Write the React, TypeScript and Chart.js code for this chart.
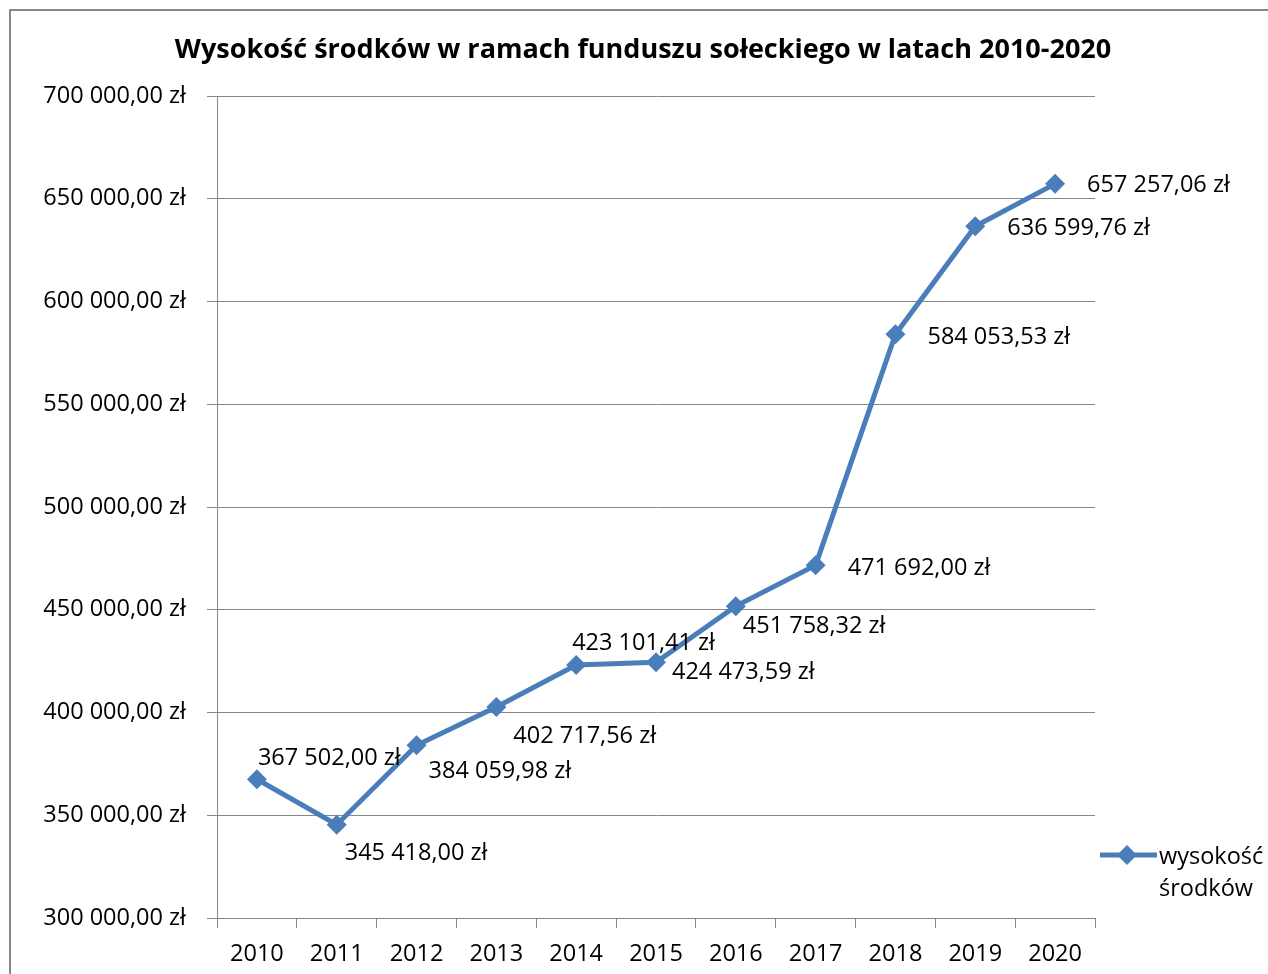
import React, { useEffect, useRef } from "react";
import { Chart, registerables } from "chart.js";

Chart.register(...registerables);

const TITLE = "Wysokość środków w ramach funduszu sołeckiego w latach 2010-2020";
const SERIES_NAME = ["wysokość", "środków"];
const YEARS = ["2010", "2011", "2012", "2013", "2014", "2015", "2016", "2017", "2018", "2019", "2020"];
const VALUES = [367502.0, 345418.0, 384059.98, 402717.56, 423101.41, 424473.59, 451758.32, 471692.0, 584053.53, 636599.76, 657257.06];
const Y_MIN = 300000;
const Y_MAX = 700000;
const Y_STEP = 50000;

// label placement offsets relative to each point (styling only)
const LABEL_DX = [1, 8, 12, 17, -4, 16, 7, 32, 32, 32, 32];
const LABEL_DY = [-21, 29, 26, 29, -22, 10, 20, 3, 3, 2, 1];

const BLUE = "#4A7EBB";
const GRID = "#868686";
const FONT = '"Open Sans", sans-serif';
const FS = 23.5;

function fmtZl(v: number): string {
  const [intPart, dec] = Math.abs(v).toFixed(2).split(".");
  const withSpaces = intPart.replace(/\B(?=(\d{3})+(?!\d))/g, " ");
  return (v < 0 ? "-" : "") + withSpaces + "," + dec + " zł";
}

const decorPlugin = {
  id: "decor",
  beforeDraw(chart: any) {
    const ctx = chart.ctx;
    ctx.save();
    ctx.fillStyle = "#ffffff";
    ctx.fillRect(0, 0, chart.width, chart.height);
    ctx.strokeStyle = "#878787";
    ctx.lineWidth = 2;
    ctx.strokeRect(10, 10, chart.width + 20, chart.height + 20);
    ctx.restore();
  },
  afterDraw(chart: any) {
    const ctx = chart.ctx;
    ctx.save();
    // title
    ctx.fillStyle = "#000";
    ctx.font = `bold 27px ${FONT}`;
    ctx.textAlign = "center";
    ctx.textBaseline = "middle";
    ctx.fillText(TITLE, 643, 50);

    // data labels
    const meta = chart.getDatasetMeta(0);
    ctx.font = `${FS}px ${FONT}`;
    ctx.textAlign = "left";
    meta.data.forEach((pt: any, i: number) => {
      ctx.fillText(fmtZl(VALUES[i]), pt.x + LABEL_DX[i], pt.y + LABEL_DY[i]);
    });

    // legend
    ctx.strokeStyle = BLUE;
    ctx.lineWidth = 5;
    ctx.beginPath();
    ctx.moveTo(1100, 855);
    ctx.lineTo(1157, 855);
    ctx.stroke();
    ctx.fillStyle = BLUE;
    ctx.beginPath();
    ctx.moveTo(1127 - 10, 855);
    ctx.lineTo(1127, 845);
    ctx.lineTo(1127 + 10, 855);
    ctx.lineTo(1127, 865);
    ctx.closePath();
    ctx.fill();
    ctx.fillStyle = "#000";
    ctx.fillText(SERIES_NAME[0], 1159, 857);
    ctx.fillText(SERIES_NAME[1], 1159, 889);
    ctx.restore();
  },
};

export default function App() {
  const ref = useRef<HTMLCanvasElement | null>(null);
  useEffect(() => {
    if (!ref.current) return;
    const chart = new Chart(ref.current, {
      type: "line",
      data: {
        labels: YEARS,
        datasets: [
          {
            label: SERIES_NAME.join(" "),
            data: VALUES,
            borderColor: BLUE,
            backgroundColor: BLUE,
            borderWidth: 5,
            pointStyle: "rectRot",
            pointRadius: 10,
            pointBorderWidth: 0,
            pointBackgroundColor: BLUE,
            tension: 0,
          },
        ],
      },
      options: {
        responsive: false,
        animation: false,
        layout: { padding: { top: 96, right: 173, left: 0, bottom: 0 } },
        plugins: {
          legend: { display: false },
          title: { display: false },
          tooltip: { enabled: false },
        },
        scales: {
          x: {
            offset: true,
            afterFit: (s: any) => {
              s.height = 56;
            },
            grid: {
              offset: true,
              drawOnChartArea: false,
              drawTicks: true,
              tickLength: 10,
              color: GRID,
              lineWidth: 1,
            },
            border: { color: GRID, width: 1 },
            ticks: {
              color: "#000",
              font: { family: FONT, size: FS },
              padding: 12,
              maxRotation: 0,
              autoSkip: false,
            },
          },
          y: {
            min: Y_MIN,
            max: Y_MAX,
            afterFit: (s: any) => {
              s.width = 217;
            },
            grid: {
              color: GRID,
              lineWidth: 1,
              drawTicks: true,
              tickLength: 10,
            },
            border: { color: GRID, width: 1 },
            ticks: {
              stepSize: Y_STEP,
              color: "#000",
              font: { family: FONT, size: FS },
              padding: 21,
              callback: (v: any) => fmtZl(Number(v)),
            },
          },
        },
      },
      plugins: [decorPlugin],
    });
    return () => chart.destroy();
  }, []);
  return (
    <div style={{ position: "fixed", left: 0, top: 0, width: 1268, height: 974, background: "#fff" }}>
      <canvas ref={ref} width={1268} height={974} style={{ width: 1268, height: 974, display: "block" }} />
    </div>
  );
}
